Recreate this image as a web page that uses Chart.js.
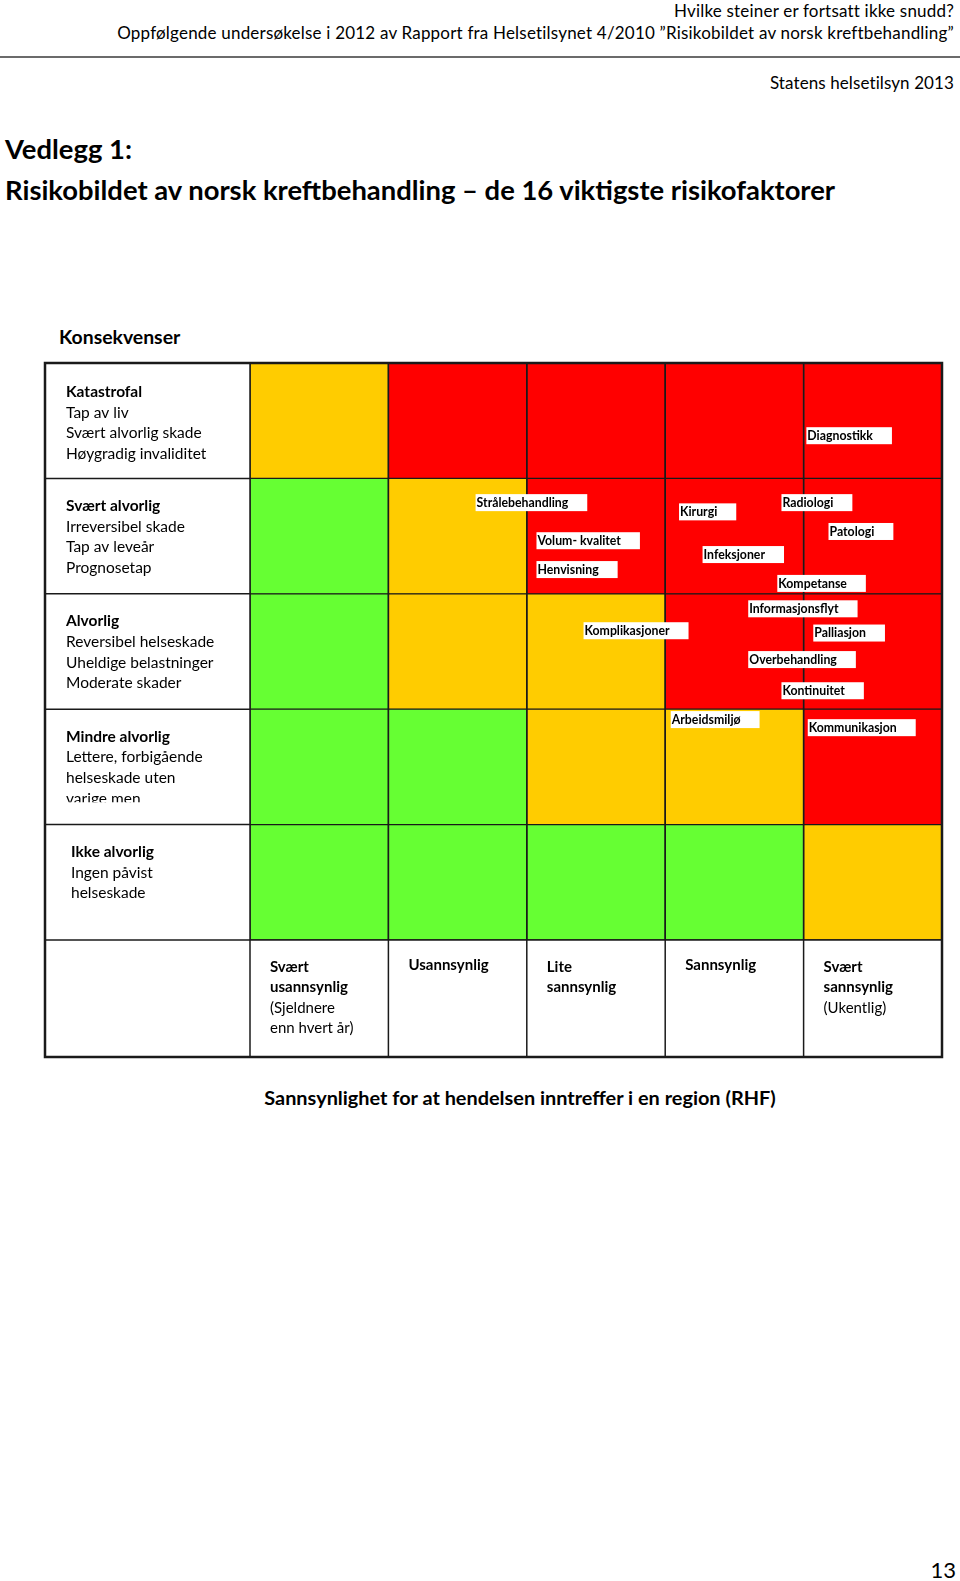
<!DOCTYPE html>
<html lang="no">
<head>
<meta charset="utf-8">
<title>Risikobildet av norsk kreftbehandling</title>
<script src="https://cdn.jsdelivr.net/npm/chart.js@4.4.1/dist/chart.umd.min.js"></script>
<style>
  html, body { margin: 0; padding: 0; background: #fff; }
  body { position: relative; width: 960px; height: 1581px; overflow: hidden; font-family: Lato, "Open Sans", sans-serif; color: #000; }
  .txt { position: absolute; white-space: nowrap; }
  .right { right: 6px; text-align: right; font-size: 17px; letter-spacing: 0.2px; line-height: 20px; }
  .rule { position: absolute; left: 0; width: 960px; top: 56px; height: 2px; background: #6b6b6b; }
  .title { left: 5px; font-size: 27.4px; font-weight: bold; line-height: 32px; }
  #matrix { position: absolute; left: 35px; top: 353px; width: 917px; height: 714px; }
</style>
</head>
<body>
<div class="txt right" style="top:1px">Hvilke steiner er fortsatt ikke snudd?</div>
<div class="txt right" style="top:23px">Oppfølgende undersøkelse i 2012 av Rapport fra Helsetilsynet 4/2010 ”Risikobildet av norsk kreftbehandling”</div>
<div class="rule"></div>
<div class="txt right" style="top:73px; letter-spacing:0.1px">Statens helsetilsyn 2013</div>
<div class="txt title" style="top:133px">Vedlegg 1:</div>
<div class="txt title" style="top:174px">Risikobildet av norsk kreftbehandling – de 16 viktigste risikofaktorer</div>
<div class="txt" style="left:59px; top:325px; font-size:19.4px; font-weight:bold; line-height:24px">Konsekvenser</div>
<div id="matrix"><canvas id="riskChart"></canvas></div>
<div class="txt" style="left:0; width:1040px; text-align:center; top:1085px; font-size:19.9px; font-weight:bold; line-height:24px">Sannsynlighet for at hendelsen inntreffer i en region (RHF)</div>
<div class="txt" style="right:4px; top:1557px; font-size:22px; line-height:26px">13</div>

<script>
// Rows of the matrix (consequence), top to bottom
const consequenceTitles = ['Katastrofal', 'Svært alvorlig', 'Alvorlig', 'Mindre alvorlig', 'Ikke alvorlig'];
const consequenceNotes = [
    ['Tap av liv', 'Svært alvorlig skade', 'Høygradig invaliditet'],
    ['Irreversibel skade', 'Tap av leveår', 'Prognosetap'],
    ['Reversibel helseskade', 'Uheldige belastninger', 'Moderate skader'],
    ['Lettere, forbigående', 'helseskade uten', 'varige men'],
    ['Ingen påvist', 'helseskade']
];

// Columns (likelihood), left to right
const likelihoodTitles = [['Svært', 'usannsynlig'], ['Usannsynlig'], ['Lite', 'sannsynlig'], ['Sannsynlig'], ['Svært', 'sannsynlig']];
const likelihoodNotes = [['(Sjeldnere', 'enn hvert år)'], [], [], [], ['(Ukentlig)']];

// Risk level per cell: 1 = lav (grønn), 2 = middels (gul), 3 = høy (rød)
const levelsKatastrofal = [2, 3, 3, 3, 3];
const levelsSvaertAlvorlig = [1, 2, 3, 3, 3];
const levelsAlvorlig = [1, 2, 2, 3, 3];
const levelsMindreAlvorlig = [1, 1, 2, 2, 3];
const levelsIkkeAlvorlig = [1, 1, 1, 1, 2];

// The 16 risk factors: likelihood position (0-5, left edge of label) and consequence row (0 = top)
const riskNames = ['Diagnostikk', 'Strålebehandling', 'Volum- kvalitet', 'Henvisning', 'Kirurgi', 'Radiologi',
    'Patologi', 'Infeksjoner', 'Kompetanse', 'Informasjonsflyt', 'Palliasjon', 'Overbehandling',
    'Kontinuitet', 'Komplikasjoner', 'Arbeidsmiljø', 'Kommunikasjon'];
const riskLikelihood = [4.02, 1.63, 2.07, 2.07, 3.10, 3.84, 4.18, 3.27, 3.81, 3.60, 4.07, 3.60, 3.84, 2.41, 3.04, 4.03];
const riskConsequence = [0.13, 0.71, 1.04, 1.29, 0.79, 0.71, 0.96, 1.16, 1.41, 1.63, 1.84, 2.07, 2.34, 1.82, 2.59, 2.66];

const levelColors = { 1: '#66ff33', 2: '#ffcc00', 3: '#ff0000' };
const cellLevels = [levelsKatastrofal, levelsSvaertAlvorlig, levelsAlvorlig, levelsMindreAlvorlig, levelsIkkeAlvorlig];

// one stacked dataset per likelihood column, each cell is one unit wide
const datasets = likelihoodTitles.map((t, col) => ({
    label: t.join(' '),
    data: consequenceTitles.map(() => 1),
    backgroundColor: cellLevels.map(row => levelColors[row[col]]),
    borderColor: '#1a1a1a',
    borderWidth: 1,
    borderSkipped: false,
    barPercentage: 1,
    categoryPercentage: 1
}));

const FONT = 'Lato, "Open Sans", sans-serif';

const matrixFrame = {
    id: 'matrixFrame',
    afterDatasetsDraw(chart) {
        const { ctx, chartArea: a, scales: { x, y } } = chart;
        const left = a.left - 205;
        const bottom = a.bottom + 117;
        const rowEdge = i => y.getPixelForValue(i - 0.5);

        ctx.save();
        ctx.strokeStyle = '#1a1a1a';
        ctx.lineWidth = 1.5;

        // row lines in the label column
        for (let i = 1; i < consequenceTitles.length; i++) {
            ctx.beginPath();
            ctx.moveTo(left, rowEdge(i));
            ctx.lineTo(a.left, rowEdge(i));
            ctx.stroke();
        }
        // bottom label row
        ctx.beginPath();
        ctx.moveTo(left, a.bottom);
        ctx.lineTo(a.right, a.bottom);
        ctx.stroke();
        for (let c = 0; c < likelihoodTitles.length; c++) {
            ctx.beginPath();
            ctx.moveTo(x.getPixelForValue(c), a.top);
            ctx.lineTo(x.getPixelForValue(c), bottom);
            ctx.stroke();
        }
        // outer frame
        ctx.lineWidth = 2.5;
        ctx.strokeRect(left, a.top, a.right - left, bottom - a.top);

        // consequence labels
        ctx.fillStyle = '#000';
        ctx.textBaseline = 'middle';
        consequenceTitles.forEach((title, i) => {
            const top = rowEdge(i);
            const tx = left + (i === 4 ? 26 : 21);
            const ty = top + (i === 0 ? 29 : 27.5);
            ctx.save();
            ctx.beginPath();
            ctx.rect(left, top, 205, i === 3 ? 93 : 114);
            ctx.clip();
            ctx.font = 'bold 15.5px ' + FONT;
            ctx.fillText(title, tx, ty);
            ctx.font = '15.5px ' + FONT;
            consequenceNotes[i].forEach((line, k) => ctx.fillText(line, tx, ty + 20.6 * (k + 1)));
            ctx.restore();
        });

        // likelihood labels
        likelihoodTitles.forEach((lines, c) => {
            const tx = x.getPixelForValue(c) + 20;
            let ty = a.bottom + 25 + (lines.length > 1 || likelihoodNotes[c].length ? 2 : 0);
            ctx.font = 'bold 15px ' + FONT;
            lines.forEach(line => { ctx.fillText(line, tx, ty); ty += 20.5; });
            ctx.font = '15px ' + FONT;
            likelihoodNotes[c].forEach(line => { ctx.fillText(line, tx, ty); ty += 20.5; });
        });

        // risk factor labels
        ctx.font = 'bold 12.3px ' + FONT;
        riskNames.forEach((name, i) => {
            const px = x.getPixelForValue(riskLikelihood[i]);
            const py = y.getPixelForValue(riskConsequence[i]);
            const w = ctx.measureText(name).width + 20;
            ctx.fillStyle = '#fff';
            ctx.fillRect(px, py - 8.5, w, 17);
            ctx.fillStyle = '#000';
            ctx.fillText(name, px + 1, py + 0.5);
        });
        ctx.restore();
    }
};

new Chart(document.getElementById('riskChart'), {
    type: 'bar',
    data: { labels: consequenceTitles, datasets },
    options: {
        indexAxis: 'y',
        responsive: true,
        maintainAspectRatio: false,
        animation: false,
        layout: { padding: { left: 215, top: 10, right: 10, bottom: 127 } },
        plugins: { legend: { display: false }, tooltip: { enabled: false } },
        scales: {
            x: { type: 'linear', min: 0, max: 5, stacked: true, display: false },
            y: { stacked: true, display: false }
        }
    },
    plugins: [matrixFrame]
});
</script>
</body>
</html>
